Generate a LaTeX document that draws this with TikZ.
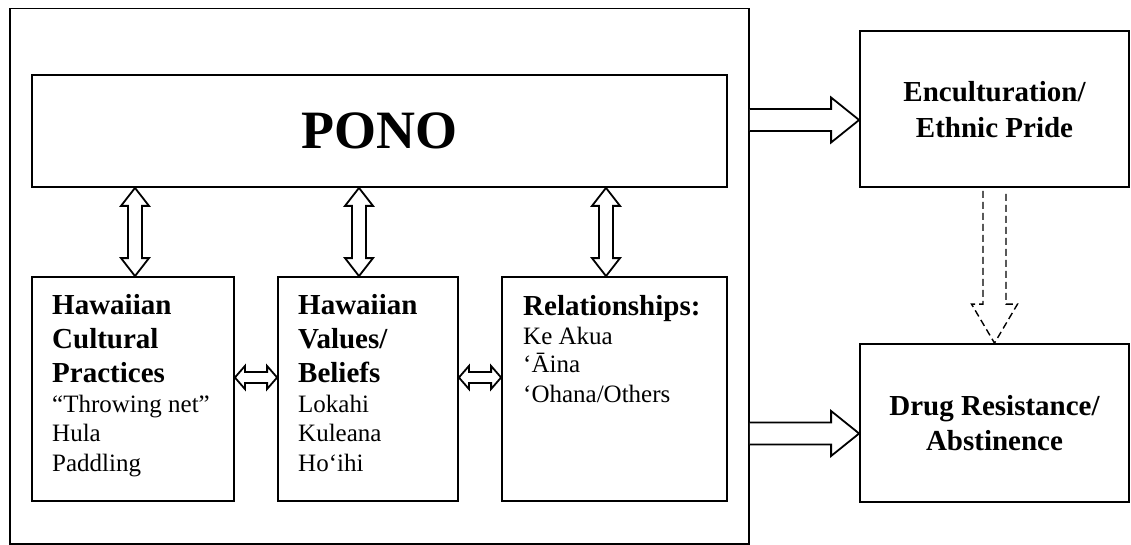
\documentclass[tikz,border=0pt]{standalone}
\usepackage{fontspec}
\setmainfont{Liberation Serif}
\usetikzlibrary{calc}
% vertical double block arrow: #1 top tip, #2 bottom tip
\newcommand\myVDA[2]{\draw[blockarrow] let \p1=(#1), \p2=(#2) in
  (\x1,\y1) -- (\x1+14pt,\y1-18pt) -- (\x1+7pt,\y1-18pt) -- (\x1+7pt,\y2+18pt) -- (\x1+14pt,\y2+18pt) -- (\x1,\y2)
  -- (\x1-14pt,\y2+18pt) -- (\x1-7pt,\y2+18pt) -- (\x1-7pt,\y1-18pt) -- (\x1-14pt,\y1-18pt) -- cycle;}
% horizontal double block arrow: #1 left tip, #2 right tip
\newcommand\myHDA[2]{\draw[blockarrow] let \p1=(#1), \p2=(#2) in
  (\x1,\y1) -- (\x1+10pt,\y1+11.5pt) -- (\x1+10pt,\y1+5.5pt) -- (\x2-10pt,\y1+5.5pt) -- (\x2-10pt,\y1+11.5pt) -- (\x2,\y1)
  -- (\x2-10pt,\y1-11.5pt) -- (\x2-10pt,\y1-5.5pt) -- (\x1+10pt,\y1-5.5pt) -- (\x1+10pt,\y1-11.5pt) -- cycle;}
% right block arrow: #1 start (open end), #2 tip
\newcommand\myRBA[2]{\draw[blockarrow] let \p1=(#1), \p2=(#2) in
  (\x1,\y1+11pt) -- (\x2-28pt,\y1+11pt) -- (\x2-28pt,\y1+22.5pt) -- (\x2,\y1) -- (\x2-28pt,\y1-22.5pt) -- (\x2-28pt,\y1-11pt) -- (\x1,\y1-11pt);}
% dashed down block arrow: #1 top centre (open end), #2 tip
\newcommand\myDDA[2]{\draw[dasharrow] let \p1=(#1), \p2=(#2) in
  (\x1-11.5pt,\y1) -- (\x1-11.5pt,\y2+39pt) -- (\x1-23pt,\y2+39pt) -- (\x2,\y2) -- (\x1+23pt,\y2+39pt) -- (\x1+11.5pt,\y2+39pt) -- (\x1+11.5pt,\y1);}
\begin{document}
\begin{tikzpicture}[x=1pt,y=-1pt,
  box/.style={draw, line width=1.8pt, inner sep=0pt, rectangle},
  blockarrow/.style={draw, line width=1.8pt, fill=white, line join=miter},
  dasharrow/.style={draw, line width=1.4pt, dash pattern=on 7pt off 4pt},
  hd/.style={font=\fontsize{29}{34}\selectfont\bfseries, anchor=base west, inner sep=0pt},
  rg/.style={font=\fontsize{25}{29}\selectfont, anchor=base west, inner sep=0pt},
  rh/.style={font=\fontsize{29}{34}\selectfont\bfseries, anchor=base, inner sep=0pt}]
\useasboundingbox[fill=white] (0,0) rectangle (1131,545);

% boxes
\node[box, minimum width=739pt, minimum height=535.5pt] (outer) at (379.5,276.25) {};
\node[box, minimum width=695pt, minimum height=112pt, font=\fontsize{54}{60}\selectfont\bfseries] (pono) at (379.5,131) {PONO};
\node[box, minimum width=202pt, minimum height=224pt] (b1) at (133,389) {};
\node[box, minimum width=180pt, minimum height=224pt] (b2) at (368,389) {};
\node[box, minimum width=225pt, minimum height=224pt] (b3) at (614.5,389) {};
\node[box, minimum width=269pt, minimum height=156pt] (enc) at (994.5,109) {};
\node[box, minimum width=269pt, minimum height=158pt] (drug) at (994.5,423) {};

% texts of box 1
\node[hd] (t11) at (52,314) {Hawaiian};
\node[hd] (t12) at (52,348.5) {Cultural};
\node[hd] (t13) at (52,382.5) {Practices};
\node[rg] (t14) at (52,412.5) {“Throwing net”};
\node[rg] (t15) at (52,441) {Hula};
\node[rg] (t16) at (52,471) {Paddling};
% texts of box 2
\node[hd] (t21) at (298,314) {Hawaiian};
\node[hd] (t22) at (298,348.5) {Values/};
\node[hd] (t23) at (298,382.5) {Beliefs};
\node[rg] (t24) at (298,412.5) {Lokahi};
\node[rg] (t25) at (298,441) {Kuleana};
\node[rg] (t26) at (298,471) {Ho‘ihi};
% texts of box 3
\node[hd] (t31) at (523,315) {Relationships:};
\node[rg] (t32) at (523,344) {Ke Akua};
\node[rg] (t33) at (523,372.5) {‘Āina};
\node[rg] (t34) at (523,402) {‘Ohana/Others};
% right boxes
\node[rh] (te1) at (994.5,102) {Enculturation/};
\node[rh] (te2) at (994.5,138) {Ethnic Pride};
\node[rh] (td1) at (994.5,415) {Drug Resistance/};
\node[rh] (td2) at (994.5,450) {Abstinence};

% anchor coordinates for the connectors
\coordinate (v1) at ($(b1.north)+(2,0)$);
\coordinate (v2) at ($(b2.north)+(-9,0)$);
\coordinate (v3) at ($(b3.north)+(-8.5,0)$);
\coordinate (h1) at ($(b1.east)+(0,-11.5)$);
\coordinate (h2) at ($(b2.east)+(0,-11.5)$);
\coordinate (encIn) at ($(enc.west)+(0,11)$);
\coordinate (drugIn) at ($(drug.west)+(0,10.5)$);
\coordinate (encOut) at ($(enc.south)+(0,3)$);

% vertical double arrows PONO <-> boxes
\myVDA{pono.south -| v1}{v1}
\myVDA{pono.south -| v2}{v2}
\myVDA{pono.south -| v3}{v3}
% horizontal double arrows between boxes
\myHDA{h1}{b2.west |- h1}
\myHDA{h2}{b3.west |- h2}
% outputs
\myRBA{outer.east |- encIn}{encIn}
\myRBA{outer.east |- drugIn}{drugIn}
% dashed arrow
\myDDA{encOut}{drug.north}
\end{tikzpicture}
\end{document}
